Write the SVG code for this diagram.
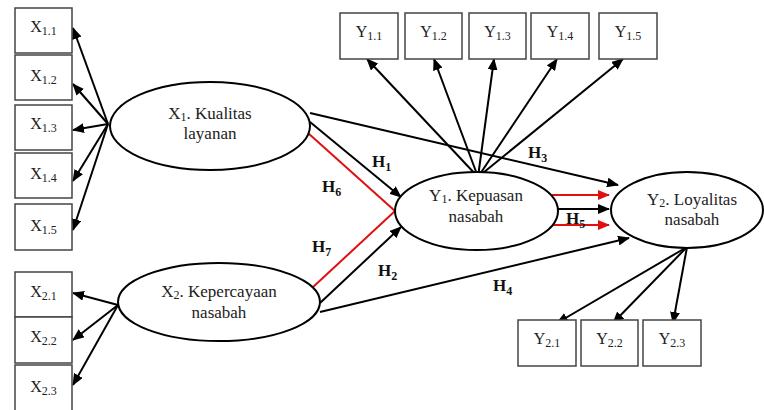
<svg xmlns="http://www.w3.org/2000/svg" width="764" height="410" viewBox="0 0 764 410" font-family="'Liberation Serif', 'Times New Roman', serif">
<style>
  .box { fill: #fff; stroke: #444; stroke-width: 1.5; }
  .ell { fill: #fff; stroke: #000; stroke-width: 2; }
  text { font-family: 'Liberation Serif', 'Times New Roman', serif; }
  .bl { font-size: 16px; fill: #222; text-anchor: middle; }
  .el { font-size: 17px; fill: #222; text-anchor: middle; }
  .h { font-size: 17px; font-weight: bold; fill: #111; }
  .sub { font-size: 12px; }
  .a { stroke: #000; stroke-width: 2; fill: none; marker-end: url(#ah); }
  .r { stroke: #e01010; stroke-width: 2; fill: none; }
  .ra { stroke: #e01010; stroke-width: 2; fill: none; marker-end: url(#rh); }
</style>
<defs>
  <marker id="ah" markerUnits="userSpaceOnUse" markerWidth="12" markerHeight="10" refX="11" refY="5" orient="auto">
    <path d="M0,0 L12,5 L0,10 z" fill="#000"/>
  </marker>
  <marker id="rh" markerUnits="userSpaceOnUse" markerWidth="12" markerHeight="10" refX="11" refY="5" orient="auto">
    <path d="M0,0 L12,5 L0,10 z" fill="#e01010"/>
  </marker>
</defs>
<rect width="764" height="410" fill="#fff"/>

<g id="connectors">
  <line class="a" x1="108" y1="124" x2="73" y2="28"/>
  <line class="a" x1="108" y1="124" x2="73" y2="84"/>
  <line class="a" x1="108" y1="124" x2="73" y2="130"/>
  <line class="a" x1="108" y1="124" x2="73" y2="181"/>
  <line class="a" x1="108" y1="124" x2="73" y2="230"/>
  <line class="a" x1="118" y1="305" x2="73" y2="293"/>
  <line class="a" x1="118" y1="305" x2="73" y2="340"/>
  <line class="a" x1="118" y1="305" x2="73" y2="385"/>
  <line class="a" x1="478" y1="177" x2="367" y2="59"/>
  <line class="a" x1="478" y1="177" x2="434" y2="59"/>
  <line class="a" x1="478" y1="177" x2="494" y2="59"/>
  <line class="a" x1="478" y1="177" x2="557" y2="59"/>
  <line class="a" x1="478" y1="177" x2="623" y2="59"/>
  <line class="a" x1="687" y1="247" x2="557" y2="323"/>
  <line class="a" x1="687" y1="247" x2="613" y2="323"/>
  <line class="a" x1="687" y1="247" x2="673" y2="323"/>
  <line class="a" x1="310" y1="122" x2="401" y2="197"/>
  <line class="a" x1="310" y1="113" x2="618" y2="185"/>
  <line class="r" x1="308" y1="133" x2="395" y2="211"/>
  <line class="r" x1="312" y1="288" x2="395" y2="211"/>
  <line class="a" x1="320" y1="303" x2="401" y2="227"/>
  <line class="a" x1="320" y1="312" x2="629" y2="238"/>
  <line class="ra" x1="552" y1="195" x2="609" y2="195"/>
  <line class="a" x1="558" y1="209" x2="609" y2="209"/>
  <line class="ra" x1="552" y1="225" x2="609" y2="225"/>
</g>

<g id="labels">
  <text class="h" x="372" y="167">H<tspan class="sub" dy="4">1</tspan></text>
  <text class="h" x="528" y="158">H<tspan class="sub" dy="4">3</tspan></text>
  <text class="h" x="322" y="192">H<tspan class="sub" dy="4">6</tspan></text>
  <text class="h" x="312" y="252">H<tspan class="sub" dy="4">7</tspan></text>
  <text class="h" x="378" y="276">H<tspan class="sub" dy="4">2</tspan></text>
  <text class="h" x="493" y="291">H<tspan class="sub" dy="4">4</tspan></text>
  <text class="h" x="566" y="224">H<tspan class="sub" dy="4">5</tspan></text>
</g>

<g id="X1_1"><rect class="box" x="15" y="8" width="57" height="45"/><text class="bl" x="43.5" y="32">X<tspan class="sub" dy="3">1.1</tspan></text></g>
<g id="X1_2"><rect class="box" x="15" y="55" width="57" height="45"/><text class="bl" x="43.5" y="81">X<tspan class="sub" dy="3">1.2</tspan></text></g>
<g id="X1_3"><rect class="box" x="15" y="105" width="57" height="45"/><text class="bl" x="43.5" y="129">X<tspan class="sub" dy="3">1.3</tspan></text></g>
<g id="X1_4"><rect class="box" x="15" y="153" width="57" height="45"/><text class="bl" x="43.5" y="179">X<tspan class="sub" dy="3">1.4</tspan></text></g>
<g id="X1_5"><rect class="box" x="15" y="204" width="57" height="46"/><text class="bl" x="43.5" y="231">X<tspan class="sub" dy="3">1.5</tspan></text></g>

<g id="X2_1"><rect class="box" x="15" y="272" width="57" height="45"/><text class="bl" x="43.5" y="297">X<tspan class="sub" dy="3">2.1</tspan></text></g>
<g id="X2_2"><rect class="box" x="15" y="317" width="57" height="46"/><text class="bl" x="43.5" y="342">X<tspan class="sub" dy="3">2.2</tspan></text></g>
<g id="X2_3"><rect class="box" x="15" y="365" width="57" height="50"/><text class="bl" x="43.5" y="392">X<tspan class="sub" dy="3">2.3</tspan></text></g>

<g id="Y1_1"><rect class="box" x="340" y="13" width="58" height="46"/><text class="bl" x="369" y="37">Y<tspan class="sub" dy="3">1.1</tspan></text></g>
<g id="Y1_2"><rect class="box" x="405" y="13" width="57" height="46"/><text class="bl" x="433.5" y="37">Y<tspan class="sub" dy="3">1.2</tspan></text></g>
<g id="Y1_3"><rect class="box" x="469" y="13" width="57" height="46"/><text class="bl" x="497.5" y="37">Y<tspan class="sub" dy="3">1.3</tspan></text></g>
<g id="Y1_4"><rect class="box" x="531" y="13" width="58" height="46"/><text class="bl" x="560" y="37">Y<tspan class="sub" dy="3">1.4</tspan></text></g>
<g id="Y1_5"><rect class="box" x="599" y="13" width="58" height="46"/><text class="bl" x="628" y="37">Y<tspan class="sub" dy="3">1.5</tspan></text></g>

<g id="Y2_1"><rect class="box" x="518" y="320" width="58" height="46"/><text class="bl" x="547" y="344">Y<tspan class="sub" dy="3">2.1</tspan></text></g>
<g id="Y2_2"><rect class="box" x="581" y="320" width="57" height="46"/><text class="bl" x="609.5" y="344">Y<tspan class="sub" dy="3">2.2</tspan></text></g>
<g id="Y2_3"><rect class="box" x="643" y="320" width="58" height="46"/><text class="bl" x="672" y="344">Y<tspan class="sub" dy="3">2.3</tspan></text></g>

<g id="X1">
  <ellipse class="ell" cx="210" cy="126" rx="100" ry="44"/>
  <text class="el" x="210" y="119">X<tspan class="sub" dy="2">1</tspan><tspan dy="-2">. Kualitas</tspan></text>
  <text class="el" x="210" y="139">layanan</text>
</g>
<g id="X2">
  <ellipse class="ell" cx="219" cy="302" rx="101" ry="39"/>
  <text class="el" x="219" y="297">X<tspan class="sub" dy="2">2</tspan><tspan dy="-2">. Kepercayaan</tspan></text>
  <text class="el" x="219" y="318">nasabah</text>
</g>
<g id="Y1">
  <ellipse class="ell" cx="476.5" cy="211" rx="81.5" ry="39"/>
  <text class="el" x="476" y="201">Y<tspan class="sub" dy="2">1</tspan><tspan dy="-2">. Kepuasan</tspan></text>
  <text class="el" x="476" y="222">nasabah</text>
</g>
<g id="Y2">
  <ellipse class="ell" cx="687" cy="210" rx="76" ry="38"/>
  <text class="el" x="692" y="205">Y<tspan class="sub" dy="2">2</tspan><tspan dy="-2">. Loyalitas</tspan></text>
  <text class="el" x="692" y="225">nasabah</text>
</g>
</svg>
